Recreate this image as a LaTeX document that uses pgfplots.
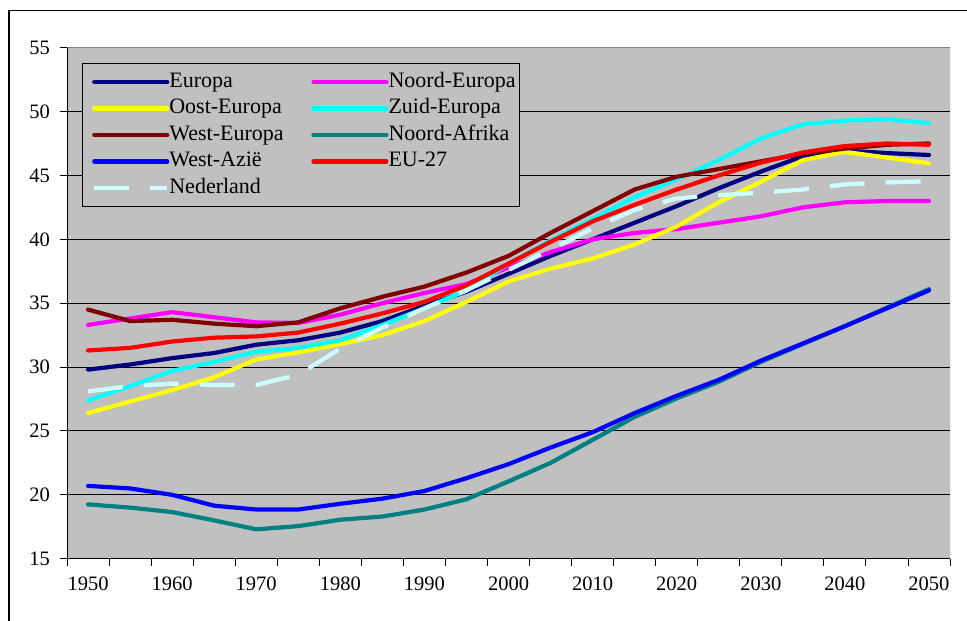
\documentclass[border=0pt]{standalone}
\usepackage{fontspec}
\setmainfont{Liberation Serif}
\usepackage{pgfplots}
\usepackage{pgfplotstable}
\pgfplotsset{compat=1.18}

\definecolor{plotbg}{HTML}{C0C0C0}
\definecolor{edgegray}{HTML}{808080}
\definecolor{cEuropa}{HTML}{000080}
\definecolor{cNoord}{HTML}{FF00FF}
\definecolor{cOost}{HTML}{FFFF00}
\definecolor{cZuid}{HTML}{00FFFF}
\definecolor{cWest}{HTML}{800000}
\definecolor{cAfrika}{HTML}{008080}
\definecolor{cAzie}{HTML}{0000FF}
\definecolor{cEU}{HTML}{FF0000}
\definecolor{cNL}{HTML}{CCFFFF}

% median age per region, 1950-2050
\pgfplotstableread{
year europa noord oost  zuid  west  afrika azie  eu   nl
1950 29.8   33.3  26.4  27.4  34.5  19.25  20.7  31.3 28.1
1955 30.2   33.8  27.3  28.5  33.6  19.0   20.5  31.5 28.5
1960 30.7   34.3  28.2  29.7  33.7  18.65  20.0  32.0 28.7
1965 31.1   33.9  29.2  30.4  33.4  18.0   19.15 32.3 28.6
1970 31.75  33.5  30.6  31.2  33.2  17.3   18.85 32.4 28.6
1975 32.1   33.45 31.15 31.5  33.5  17.55  18.85 32.7 29.4
1980 32.7   34.1  31.8  32.1  34.6  18.05  19.3  33.4 31.45
1985 33.6   35.0  32.5  33.3  35.5  18.3   19.7  34.2 33.1
1990 34.8   35.8  33.6  34.6  36.3  18.85  20.3  35.1 34.6
1995 35.9   36.5  35.1  36.0  37.4  19.65  21.3  36.4 36.0
2000 37.3   37.8  36.7  38.1  38.7  21.05  22.4  38.1 37.6
2005 38.7   39.0  37.7  39.9  40.5  22.5   23.7  39.8 39.2
2010 40.0   40.0  38.5  41.6  42.2  24.3   24.9  41.4 40.85
2015 41.3   40.5  39.6  43.3  43.9  26.1   26.4  42.7 42.3
2020 42.6   40.8  41.0  44.7  44.9  27.55  27.75 43.9 43.2
2025 44.0   41.3  42.9  46.2  45.5  28.85  29.0  45.0 43.45
2030 45.3   41.8  44.5  47.9  46.1  30.4   30.5  46.0 43.65
2035 46.5   42.5  46.2  49.0  46.7  31.8   31.85 46.8 43.9
2040 46.95  42.9  46.85 49.3  47.1  33.2   33.2  47.3 44.3
2045 46.75  43.0  46.4  49.4  47.4  34.65  34.6  47.5 44.45
2050 46.6   43.0  45.95 49.1  47.5  36.1   36.0  47.4 44.55
}\agedata

\begin{document}
\begin{tikzpicture}
\useasboundingbox (0pt,0pt) rectangle (967pt,621pt);
\draw[black, line width=1.3pt] (9pt,-5pt) -- (9pt,610.3pt) -- (975pt,610.3pt);
\begin{axis}[
  at={(67pt,62.3pt)}, anchor=south west,
  scale only axis, width=883pt, height=511pt,
  xmin=1947.5, xmax=2052.5, ymin=15, ymax=55,
  axis lines*=left,
  axis line style={-, black, line width=1pt},
  axis background/.style={fill=plotbg},
  xtick={1950,1960,...,2050},
  minor xtick={1947.5,1952.5,1957.5,1962.5,1967.5,1972.5,1977.5,1982.5,1987.5,1992.5,1997.5,2002.5,2007.5,2012.5,2017.5,2022.5,2027.5,2032.5,2037.5,2042.5,2047.5,2052.5},
  ytick={15,20,...,55},
  ymajorgrids, grid style={black, line width=0.9pt},
  tick align=outside,
  major tick length=7pt, minor tick length=7pt,
  tick style={black, line width=0.9pt},
  major x tick style={draw=none},
  ticklabel style={font=\fontsize{20.5}{24}\selectfont, inner sep=0pt},
  /pgf/number format/assume math mode=true,
  /pgf/number format/1000 sep={},
  yticklabel style={xshift=-10pt},
  xticklabel style={yshift=-11pt},
  legend style={at={(0.0166,0.9695)}, anchor=north west, fill=plotbg, draw=black,
    line width=1pt, font=\fontsize{22}{25}\selectfont,
    inner xsep=10pt, inner ysep=8.5pt, row sep=7pt, column sep=0pt,
    nodes={inner xsep=0pt, inner ysep=0pt, text height=15pt, text depth=4.5pt}},
  legend columns=2,
  legend cell align=left,
  legend image code/.code={\draw[#1] (0pt,0pt) -- (73pt,0pt);},
  every axis plot/.append style={line width=4.2pt, line join=round, line cap=round},
]
\addplot[cEuropa] table[x=year,y=europa]{\agedata};
\addlegendentry{\makebox[142pt][l]{Europa}}
\addplot[cNoord] table[x=year,y=noord]{\agedata};
\addlegendentry{\makebox[121pt][l]{Noord-Europa}}
\addplot[cOost] table[x=year,y=oost]{\agedata};
\addlegendentry{\makebox[142pt][l]{Oost-Europa}}
\addplot[cZuid] table[x=year,y=zuid]{\agedata};
\addlegendentry{\makebox[121pt][l]{Zuid-Europa}}
\addplot[cWest] table[x=year,y=west]{\agedata};
\addlegendentry{\makebox[142pt][l]{West-Europa}}
\addplot[cAfrika] table[x=year,y=afrika]{\agedata};
\addlegendentry{\makebox[121pt][l]{Noord-Afrika}}
\addplot[cAzie] table[x=year,y=azie]{\agedata};
\addlegendentry{\makebox[142pt][l]{West-Azië}}
\addplot[cEU] table[x=year,y=eu]{\agedata};
\addlegendentry{\makebox[121pt][l]{EU-27}}
\addplot[cNL, line cap=butt, dash pattern=on 35pt off 21pt] table[x=year,y=nl]{\agedata};
\addlegendentry{\makebox[142pt][l]{Nederland}}
\draw[edgegray, line width=1pt] (rel axis cs:0,1) -- (rel axis cs:1,1) -- (rel axis cs:1,0);
\end{axis}
\end{tikzpicture}
\end{document}
